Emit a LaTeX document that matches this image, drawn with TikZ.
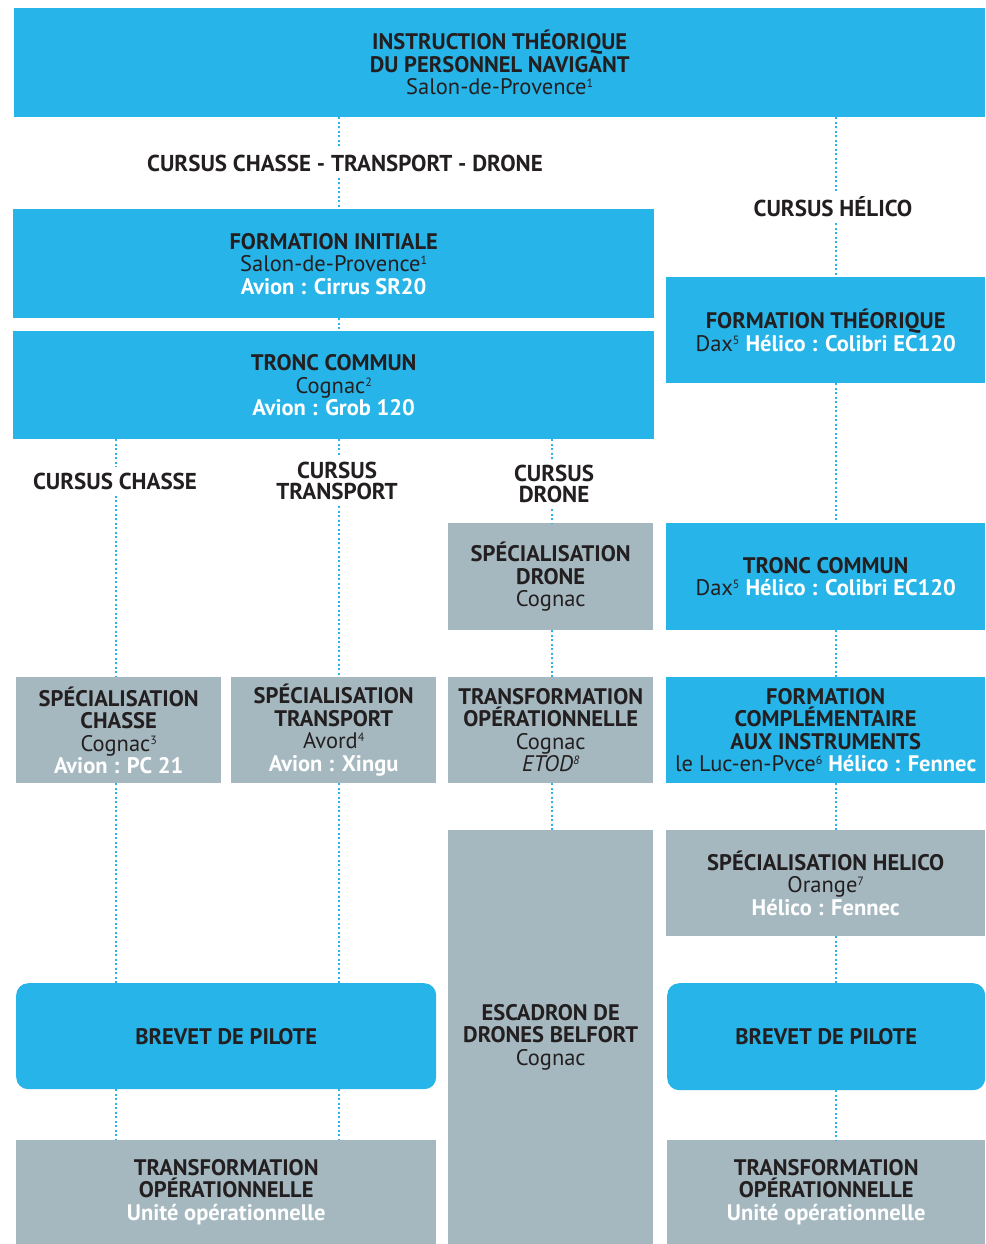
\documentclass[tikz,border=0pt]{standalone}
\usepackage{fontspec}
\setmainfont{PT Sans}
\usetikzlibrary{positioning}
\definecolor{ciel}{HTML}{27B4E8}
\definecolor{ardoise}{HTML}{A5B8BF}
\definecolor{encre}{HTML}{231F20}
\newcommand{\appareil}[1]{\textcolor{white}{\bfseries #1}}
\newcommand{\lieu}[2]{#1\raisebox{7pt}{\fontsize{12}{12}\selectfont #2}}

\begin{document}
\begin{tikzpicture}[x=1pt,y=-1pt,text=encre,
  font=\fontsize{22.5}{22.5}\selectfont]
  \tikzstyle{bloc}=[anchor=north west,inner sep=0pt,align=center,fill=ciel]
  \tikzstyle{gris}=[bloc,fill=ardoise]
  \tikzstyle{brevet}=[bloc,rounded corners=12pt]
  \tikzstyle{cursus}=[font=\fontsize{23}{21}\selectfont\bfseries,align=center,inner sep=6pt]
  \tikzstyle{lien}=[draw=ciel,line width=2.2pt,dash pattern=on 2pt off 2.5pt]

  \useasboundingbox (0,0) rectangle (985,1244);

  % colonnes des liens
  \coordinate (xc) at (116,0);
  \coordinate (xt) at (339,0);
  \coordinate (xd) at (552,0);
  \coordinate (xh) at (836,0);

  \node[bloc,minimum width=971pt,minimum height=109pt] (itpn) at (14,8)
    {\textbf{INSTRUCTION THÉORIQUE}\\\textbf{DU PERSONNEL NAVIGANT}\\\lieu{Salon-de-Provence}{1}};

  \node[cursus] (ctd) at (345,163) {CURSUS CHASSE - TRANSPORT - DRONE};
  \node[cursus] (ch)  at (833,207) {CURSUS HÉLICO};

  % cursus chasse - transport - drone
  \node[bloc,minimum width=641pt,minimum height=109pt] (fi) at (13,209)
    {\textbf{FORMATION INITIALE}\\\lieu{Salon-de-Provence}{1}\\\appareil{Avion : Cirrus SR20}};
  \node[bloc,minimum width=641pt,minimum height=108pt] (tc) at (13,331)
    {\textbf{TRONC COMMUN}\\\lieu{Cognac}{2}\\\appareil{Avion : Grob 120}};

  \node[cursus] (cc)  at (115,481) {CURSUS CHASSE};
  \node[cursus] (ctr) at (337,481) {CURSUS\\TRANSPORT};
  \node[cursus] (cdr) at (554,484) {CURSUS\\DRONE};

  \node[gris,minimum width=205pt,minimum height=106pt] (sc) at (16,677)
    {\textbf{SPÉCIALISATION}\\\textbf{CHASSE}\\\lieu{Cognac}{3}\\\appareil{Avion : PC 21}};
  \node[gris,minimum width=205pt,minimum height=106pt] (st) at (231,677)
    {\textbf{SPÉCIALISATION}\\\textbf{TRANSPORT}\\\lieu{Avord}{4}\\\appareil{Avion : Xingu}};
  \node[gris,minimum width=205pt,minimum height=107pt] (sd) at (448,523)
    {\textbf{SPÉCIALISATION}\\\textbf{DRONE}\\Cognac};
  \node[gris,minimum width=205pt,minimum height=106pt] (tod) at (448,677)
    {\textbf{TRANSFORMATION}\\\textbf{OPÉRATIONNELLE}\\Cognac\\\lieu{\textit{ETOD}}{\textit{8}}};
  \node[gris,minimum width=205pt,minimum height=414pt] (edb) at (448,830)
    {\textbf{ESCADRON DE}\\\textbf{DRONES BELFORT}\\Cognac};

  \node[brevet,minimum width=420pt,minimum height=106pt] (bpl) at (16,983)
    {\textbf{BREVET DE PILOTE}};
  \node[gris,minimum width=420pt,minimum height=104pt] (tol) at (16,1140)
    {\textbf{TRANSFORMATION}\\\textbf{OPÉRATIONNELLE}\\\appareil{Unité opérationnelle}};

  % cursus helico
  \node[bloc,minimum width=319pt,minimum height=106pt] (ft) at (666,277)
    {\textbf{FORMATION THÉORIQUE}\\\lieu{Dax}{5} \appareil{Hélico : Colibri EC120}};
  \node[bloc,minimum width=319pt,minimum height=107pt] (tch) at (666,523)
    {\textbf{TRONC COMMUN}\\\lieu{Dax}{5} \appareil{Hélico : Colibri EC120}};
  \node[bloc,minimum width=319pt,minimum height=106pt] (fci) at (666,677)
    {\textbf{FORMATION}\\\textbf{COMPLÉMENTAIRE}\\\textbf{AUX INSTRUMENTS}\\\lieu{le Luc-en-Pvce}{6} \appareil{Hélico : Fennec}};
  \node[gris,minimum width=319pt,minimum height=106pt] (sh) at (666,830)
    {\textbf{SPÉCIALISATION HELICO}\\\lieu{Orange}{7}\\\appareil{Hélico : Fennec}};
  \node[brevet,minimum width=318pt,minimum height=107pt] (bph) at (667,983)
    {\textbf{BREVET DE PILOTE}};
  \node[gris,minimum width=318pt,minimum height=104pt] (toh) at (667,1140)
    {\textbf{TRANSFORMATION}\\\textbf{OPÉRATIONNELLE}\\\appareil{Unité opérationnelle}};

  \draw[lien] (itpn.south -| xt) -- (ctd.north -| xt)
              (ctd.south -| xt) -- (fi.north -| xt)
              (fi.south -| xt) -- (tc.north -| xt)
              (tc.south -| xc) -- (cc.north -| xc)
              (cc.south -| xc) -- (sc.north -| xc)
              (tc.south -| xt) -- (ctr.north -| xt)
              (ctr.south -| xt) -- (st.north -| xt)
              (tc.south -| xd) -- (cdr.north -| xd)
              (cdr.south -| xd) -- (sd.north -| xd)
              (sd.south -| xd) -- (tod.north -| xd)
              (tod.south -| xd) -- (edb.north -| xd)
              (sc.south -| xc) -- (bpl.north -| xc)
              (st.south -| xt) -- (bpl.north -| xt)
              (bpl.south -| xc) -- (tol.north -| xc)
              (bpl.south -| xt) -- (tol.north -| xt);
  \draw[lien] (itpn.south -| xh) -- (ch.north -| xh)
              (ch.south -| xh) -- (ft.north -| xh)
              (ft.south -| xh) -- (tch.north -| xh)
              (tch.south -| xh) -- (fci.north -| xh)
              (fci.south -| xh) -- (sh.north -| xh)
              (sh.south -| xh) -- (bph.north -| xh)
              (bph.south -| xh) -- (toh.north -| xh);
\end{tikzpicture}
\end{document}
